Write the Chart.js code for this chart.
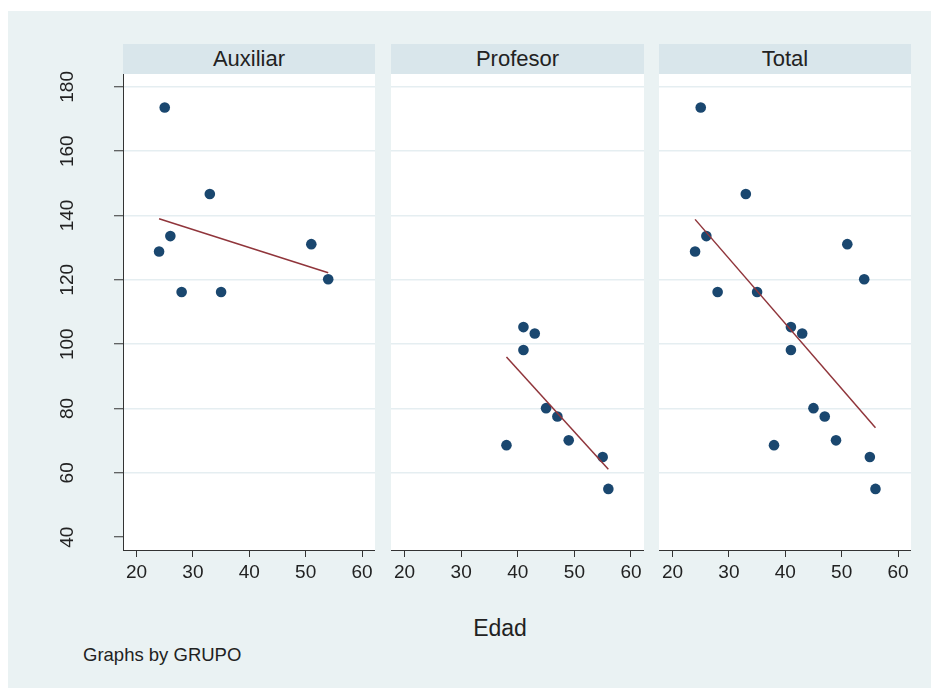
<!DOCTYPE html>
<html>
<head>
<meta charset="utf-8">
<script src="https://cdn.jsdelivr.net/npm/chart.js@4"></script>
<style>
body{margin:0;background:#fff;width:931px;height:688px;position:relative;overflow:hidden;font-family:"Liberation Sans",Arial,sans-serif;color:#222}
#fondo{position:absolute;left:8px;top:11px;right:0;bottom:0;background:#eaf2f3}
.tira{position:absolute;top:44px;height:30px;line-height:30px;background:#d9e6eb;text-align:center;font-size:22px}
canvas{position:absolute;top:44px}
</style>
</head>
<body>
<div id="fondo"></div>
<div class="tira" style="left:123px;width:252px">Auxiliar</div>
<div class="tira" style="left:391px;width:253px">Profesor</div>
<div class="tira" style="left:659px;width:252px">Total</div>
<canvas id="g1" width="355" height="556" style="left:20px"></canvas>
<canvas id="g2" width="253" height="556" style="left:391px"></canvas>
<canvas id="g3" width="252" height="556" style="left:659px"></canvas>
<div style="position:absolute;left:440px;width:120px;top:615px;text-align:center;font-size:23px">Edad</div>
<div style="position:absolute;left:83px;top:644px;font-size:18.5px">Graphs by GRUPO</div>
<script>
// datos
var edadAux = [24, 25, 26, 28, 33, 35, 51, 54];
var valorAux = [128.8, 173.6, 133.6, 116.2, 146.7, 116.2, 131.1, 120.2];
var edadProf = [38, 41, 41, 43, 45, 47, 49, 55, 56];
var valorProf = [68.6, 105.3, 98.2, 103.3, 80.1, 77.5, 70.1, 64.9, 55.0];

// rectas de ajuste (extremos)
var ajusteAuxX = [24, 54];
var ajusteAuxY = [139.0, 122.2];
var ajusteProfX = [38, 56];
var ajusteProfY = [96.0, 61.1];
var ajusteTotX = [24, 56];
var ajusteTotY = [138.8, 74.0];

var ticksX = [20, 30, 40, 50, 60];
var ticksY = [40, 60, 80, 100, 120, 140, 160, 180];

var fuente = '"Liberation Sans", Arial, sans-serif';

var fondoBlanco = {
    id: 'fondoBlanco',
    beforeDraw: function (chart) {
        let a = chart.chartArea;
        let c = chart.ctx;
        c.save();
        c.fillStyle = '#ffffff';
        c.fillRect(a.left, a.top, a.right - a.left, a.bottom - a.top);
        c.restore();
    }
};

function puntos(xs, ys) {
    return xs.map(function (x, i) { return {x: x, y: ys[i]}; });
}

function crearPanel(id, xs, ys, fx, fy, conEjeY) {
    let ctx = document.getElementById(id).getContext('2d');
    let ejeY = {
        min: 36,
        max: 184,
        afterBuildTicks: function (s) { s.ticks = ticksY.map(function (v) { return {value: v}; }); },
        grid: {
            color: function (c) { return (c.tick && c.tick.value === 40) ? 'rgba(0,0,0,0)' : '#e5eef1'; },
            lineWidth: 1.5,
            drawTicks: conEjeY,
            tickLength: 9,
            tickColor: '#333',
            tickWidth: 1
        },
        border: {display: conEjeY, color: '#333', width: 1},
        ticks: {
            display: conEjeY,
            minRotation: 90,
            maxRotation: 90,
            crossAlign: 'center',
            padding: 30,
            color: '#222',
            font: {family: fuente, size: 19}
        },
        afterFit: function (s) {
            s.width = conEjeY ? 103 : 0;
            s.paddingTop = 0;
            s.paddingBottom = 0;
        }
    };
    return new Chart(ctx, {
        type: 'scatter',
        data: {
            datasets: [{
                data: puntos(fx, fy),
                showLine: true,
                borderColor: '#90353b',
                borderWidth: 1.5,
                pointRadius: 0
            }, {
                data: puntos(xs, ys),
                backgroundColor: '#1a476f',
                borderColor: '#1a476f',
                borderWidth: 0,
                pointRadius: 5.3
            }]
        },
        options: {
            responsive: false,
            animation: false,
            layout: {padding: {top: 30, left: 0, right: 0, bottom: 0}, autoPadding: false},
            plugins: {legend: {display: false}, tooltip: {enabled: false}, title: {display: false}},
            scales: {
                x: {
                    type: 'linear',
                    min: 17.6,
                    max: 62.3,
                    afterBuildTicks: function (s) { s.ticks = ticksX.map(function (v) { return {value: v}; }); },
                    grid: {drawOnChartArea: false, drawTicks: true, tickLength: 7, tickColor: '#333'},
                    border: {color: '#333', width: 1},
                    ticks: {maxRotation: 0, padding: 4, color: '#222', font: {family: fuente, size: 19}},
                    afterFit: function (s) {
                        s.height = 50;
                        s.paddingLeft = 0;
                        s.paddingRight = 0;
                    }
                },
                y: ejeY
            }
        },
        plugins: [fondoBlanco]
    });
}

crearPanel('g1', edadAux, valorAux, ajusteAuxX, ajusteAuxY, true);
crearPanel('g2', edadProf, valorProf, ajusteProfX, ajusteProfY, false);
crearPanel('g3', edadAux.concat(edadProf), valorAux.concat(valorProf), ajusteTotX, ajusteTotY, false);
</script>
</body>
</html>
